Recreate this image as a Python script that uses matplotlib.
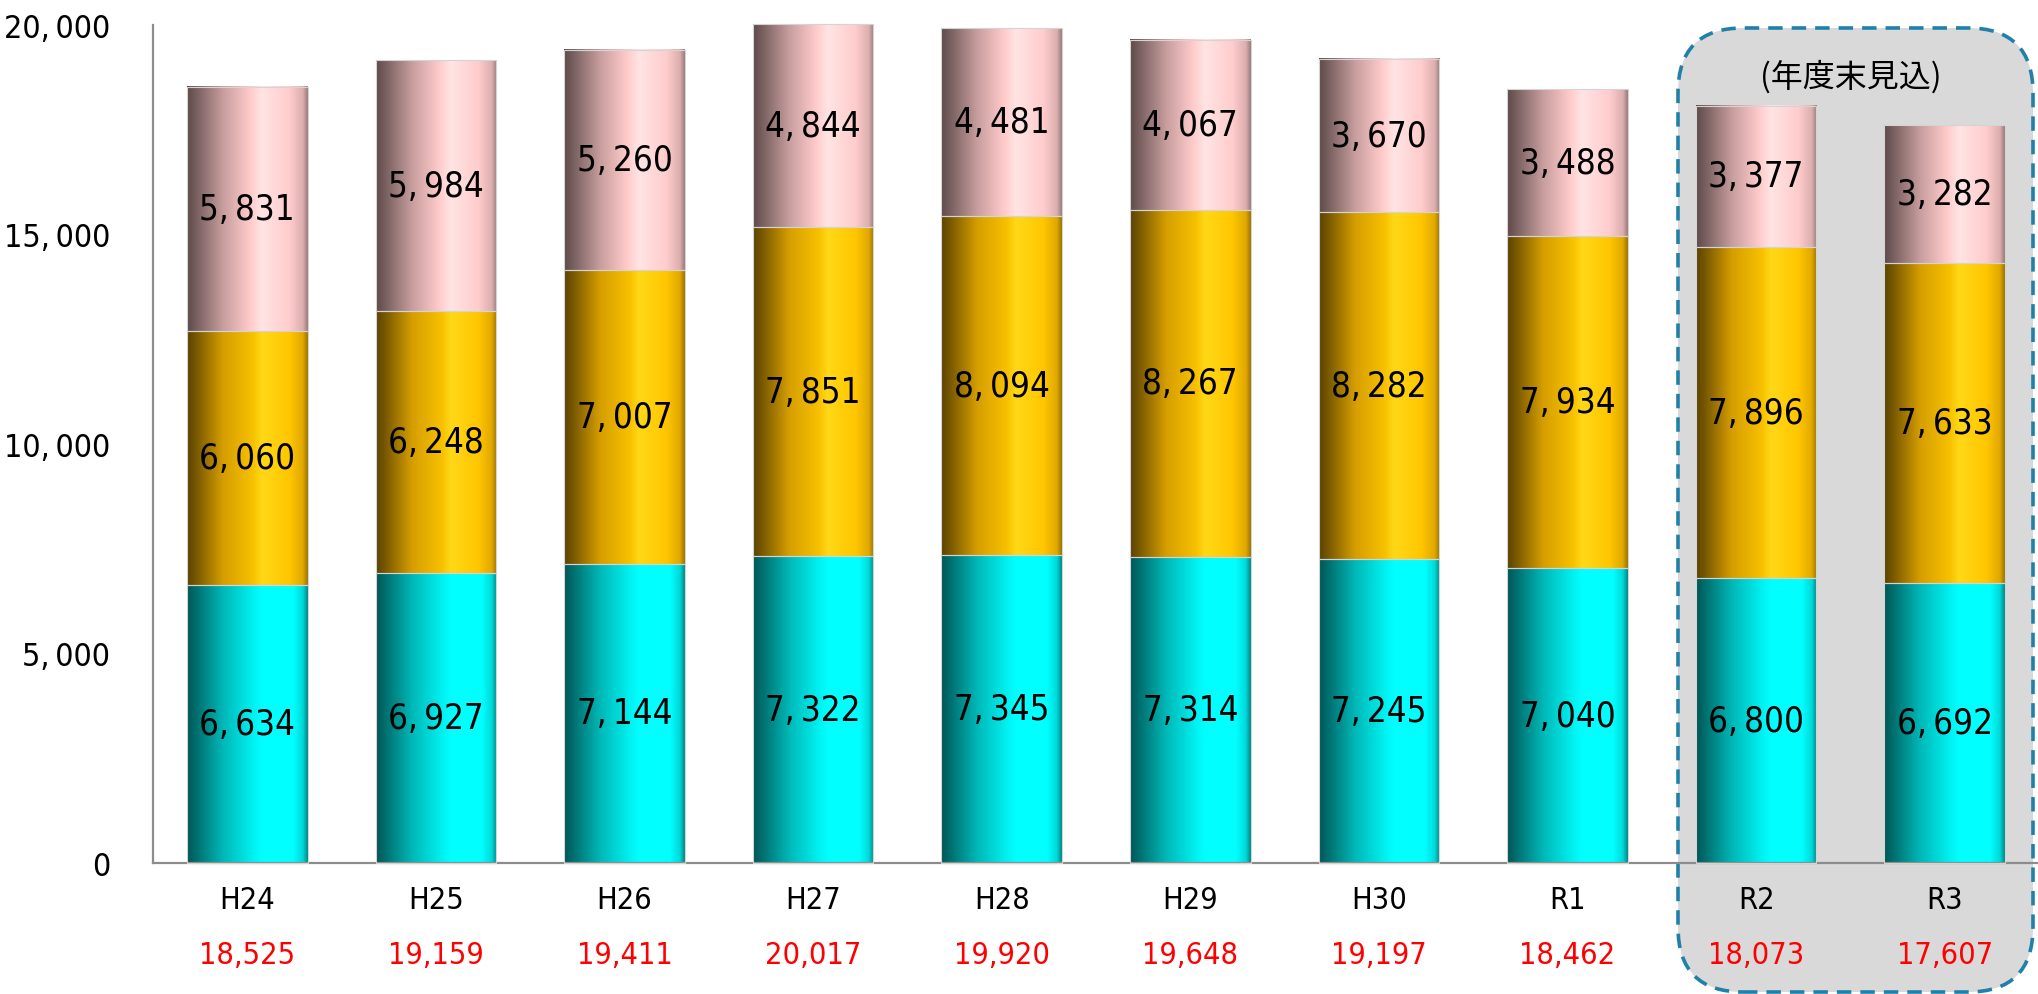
import numpy as np
import matplotlib
matplotlib.use("Agg")
from matplotlib import pyplot as plt
from matplotlib import font_manager as fm
from matplotlib.patches import FancyBboxPatch
from matplotlib.colors import LinearSegmentedColormap


years = ["H24", "H25", "H26", "H27", "H28", "H29", "H30", "R1", "R2", "R3"]
bottom_vals = [6634, 6927, 7144, 7322, 7345, 7314, 7245, 7040, 6800, 6692]
middle_vals = [6060, 6248, 7007, 7851, 8094, 8267, 8282, 7934, 7896, 7633]
top_vals = [5831, 5984, 5260, 4844, 4481, 4067, 3670, 3488, 3377, 3282]
totals = [18525, 19159, 19411, 20017, 19920, 19648, 19197, 18462, 18073, 17607]
yticks = [0, 5000, 10000, 15000, 20000]
note = "(年度末見込)"


def narrow_font():
    # look for any condensed / narrow face that is installed
    best = None
    for f in fm.fontManager.ttflist:
        name = (f.name + " " + f.fname).lower()
        if "bold" in name or "oblique" in name or "italic" in name:
            continue
        if "narrow" in name or "condensed" in name or "condensed" in str(f.stretch):
            score = 0 if "liberation" in name else (1 if "dejavu" in name else 2)
            if best is None or score < best[0]:
                best = (score, f.fname)
    if best:
        return fm.FontProperties(fname=best[1])
    return fm.FontProperties(family="DejaVu Sans", stretch="condensed")


nf = narrow_font()


def numfont(size):
    p = nf.copy()
    p.set_size(size)
    return p


def fmt(v):
    # comma followed by a thin space, like the original labels
    return f"{v:,}".replace(",", ",\u2009")


jp_font = ["Noto Sans CJK JP", "DejaVu Sans"]

# horizontal shading for the "cylinder" look
cyan_cm = LinearSegmentedColormap.from_list("cy", [
    (0, "#005656"), (0.3, "#00b8b8"), (0.55, "#00f2f2"), (0.62, "#00ffff"),
    (0.88, "#00ffff"), (0.96, "#00d8d8"), (1, "#008888")])
gold_cm = LinearSegmentedColormap.from_list("gd", [
    (0, "#5a4200"), (0.3, "#d69e00"), (0.55, "#f8c200"), (0.62, "#ffd818"),
    (0.85, "#ffc600"), (0.96, "#e0a800"), (1, "#9a7400")])
pink_cm = LinearSegmentedColormap.from_list("pk", [
    (0, "#5e4a4a"), (0.3, "#c89e9e"), (0.52, "#ffcaca"), (0.62, "#ffe4e4"),
    (0.85, "#ffcccc"), (0.96, "#dcaeae"), (1, "#9a7c7c")])
grad = np.linspace(0, 1, 256).reshape(1, -1)

fig = plt.figure(figsize=(20.38, 9.95), dpi=100)
ax = fig.add_axes([153 / 2038, 131 / 995, 1886 / 2038, 838 / 995])
ax.set_facecolor("none")

# grey rounded box around the forecast years (inches, drawn behind axes)
box = FancyBboxPatch((16.78 + 0.65, 0.02 + 0.65), 3.55 - 1.3, 9.64 - 1.3,
                     boxstyle="round,pad=0.65", transform=fig.dpi_scale_trans,
                     facecolor="#d9d9d9", edgecolor="#1f80aa", linewidth=2.6,
                     linestyle=(0, (4, 2.5)), zorder=-5)
fig.patches.append(box)

x = np.arange(len(years))
w = 0.64
b1 = np.array(bottom_vals)
b2 = b1 + np.array(middle_vals)

for vals, base, cm in [(bottom_vals, 0, cyan_cm), (middle_vals, b1, gold_cm),
                       (top_vals, b2, pink_cm)]:
    bars = ax.bar(x, vals, width=w, bottom=base, color="none",
                  edgecolor="#d4d4d4", linewidth=0.8, zorder=3, clip_on=False)
    for r, v in zip(bars, vals):
        x0, y0 = r.get_x(), r.get_y()
        ax.imshow(grad, cmap=cm, aspect="auto", zorder=2, clip_on=False,
                  extent=(x0, x0 + r.get_width(), y0, y0 + r.get_height()),
                  interpolation="bilinear")
        ax.text(x0 + r.get_width() / 2, y0 + r.get_height() / 2, fmt(v),
                ha="center", va="center", fontproperties=numfont(25), zorder=4)

ax.set_xlim(-0.5, len(years) - 0.5)
ax.set_ylim(0, 20000)
ax.set_yticks(yticks)
ax.set_yticklabels([fmt(t) for t in yticks], fontproperties=numfont(23))
ax.set_xticks(x)
ax.set_xticklabels(years, fontproperties=numfont(22))
ax.tick_params(axis="y", length=0, pad=31)
ax.tick_params(axis="x", length=0, pad=16)

for i, t in enumerate(totals):
    ax.text(i, -0.109, f"{t:,}", transform=ax.get_xaxis_transform(),
            ha="center", va="center", fontproperties=numfont(22),
            color="#ff0000")

ax.text(8.5, 18780, note, ha="center", va="center", fontsize=23,
        family=jp_font, zorder=4)

for s in ["top", "right"]:
    ax.spines[s].set_visible(False)
for s in ["left", "bottom"]:
    ax.spines[s].set_color("#8c8c8c")
    ax.spines[s].set_linewidth(1.6)

fig.savefig("out.png", dpi=100)
